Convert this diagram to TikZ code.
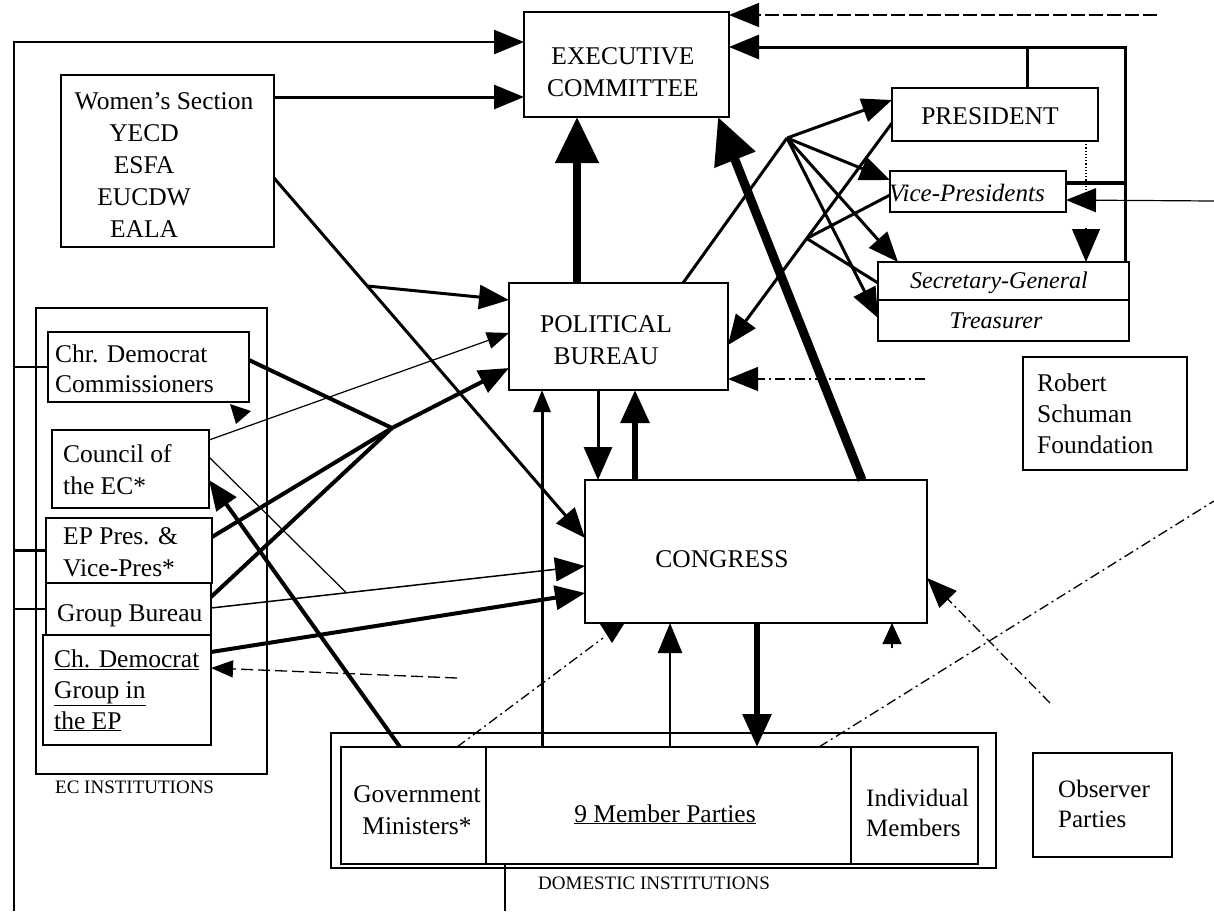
\documentclass[tikz,border=0pt]{standalone}
\usepackage{fontspec}
\setmainfont{Liberation Serif}
\usetikzlibrary{arrows.meta,calc,fit}
\begin{document}
\begin{tikzpicture}[x=1pt,y=-1pt,
  box/.style={draw,line width=2.3pt,inner sep=0pt,outer sep=0pt},
  grp/.style={draw,line width=1.2pt,inner sep=0pt,outer sep=0pt},
  txt/.style={inner sep=0pt,font=\fontsize{25.5}{31}\selectfont},
  smalltxt/.style={inner sep=0pt,font=\fontsize{19}{22}\selectfont},
  ln/.style={line width=2.5pt},
  thinl/.style={line width=1.2pt},
  med/.style={line width=3pt},
  thk/.style={line width=4pt},
  thksix/.style={line width=6pt},
  vthk/.style={line width=8pt},
  dashdot/.style={line width=1.3pt,dash pattern=on 10pt off 4pt on 2pt off 4pt},
  longdash/.style={line width=1.5pt,dash pattern=on 14pt off 4pt},
  arr/.style={-{Triangle[length=30pt,width=24pt]}},
  arrS/.style={-{Triangle[length=22pt,width=17pt]}},
  arrM/.style={-{Triangle[length=33pt,width=28pt]}},
  arrB/.style={-{Triangle[length=46pt,width=42pt]}}]
\useasboundingbox (0,0) rectangle (1214,911);

% ---------------- boxes ----------------
\node[box,fit={(524,12)(729,117)}] (ec) {};
\node[box,fit={(61,75)(274,247)}] (wom) {};
\node[box,fit={(892,88)(1098,141)}] (pres) {};
\node[box,fit={(890,171)(1066,212)}] (vp) {};
\node[box,fit={(878,262)(1129,300)}] (sg) {};
\node[box,fit={(878,300)(1129,341)}] (tr) {};
\node[box,fit={(1023,357)(1187,470)}] (rsf) {};
\node[box,fit={(509,283)(728,390)}] (pb) {};
\node[box,fit={(585,480)(927,623)}] (cong) {};
\node[grp,fit={(36,308)(267,774)}] (ecinst) {};
\node[box,fit={(48,332)(249,402)}] (com) {};
\node[box,fit={(52,430)(209,508)}] (coun) {};
\node[box,fit={(46,518)(212,583)}] (ep) {};
\node[box,fit={(46,583)(211,635)}] (gb) {};
\node[box,fit={(43,635)(211,745)}] (cdg) {};
\node[grp,fit={(331,733)(996,868)}] (dom) {};
\node[box,fit={(341,747)(486,864)}] (gm) {};
\node[box,fit={(486,747)(851,864)}] (mp) {};
\node[box,fit={(851,747)(978,864)}] (im) {};
\node[box,fit={(1033,753)(1172,857)}] (obs) {};

% ---------------- texts (base = last line) ----------------
\node[txt,anchor=base,align=center,font=\fontsize{25.5}{32}\selectfont] (ectx) at (623,96) {EXECUTIVE\\COMMITTEE};
\node[txt,anchor=base,align=center,font=\fontsize{25.5}{32}\selectfont] (womtx) at (164,237)
  {Women's Section\\\hspace*{-40pt}YECD\\\hspace*{-40pt}ESFA\\\hspace*{-40pt}EUCDW\\\hspace*{-40pt}EALA};
\node[txt,anchor=base] (prestx) at (990,124) {PRESIDENT};
\node[txt,anchor=base west,font=\fontsize{25}{31}\itshape] (vptx) at (889,201) {Vice-Presidents};
\node[txt,anchor=base,font=\fontsize{24}{31}\itshape] (sgtx) at (999,288) {Secretary-General};
\node[txt,anchor=base,font=\fontsize{24}{31}\itshape] (trtx) at (996,328) {Treasurer};
\node[txt,anchor=base west,align=left] (rsftx) at (1037,453) {Robert\\Schuman\\Foundation};
\node[txt,anchor=base,align=center,font=\fontsize{25.5}{32}\selectfont] (pbtx) at (606,364) {POLITICAL\\BUREAU};
\node[txt,anchor=base] (congtx) at (722,567) {CONGRESS};
\node[txt,anchor=base west,align=left,font=\fontsize{25.5}{30}\selectfont] (comtx) at (55,392) {Chr. Democrat\\Commissioners};
\node[txt,anchor=base west,align=left,font=\fontsize{25.5}{32}\selectfont] (countx) at (63,494) {Council of\\the EC*};
\node[txt,anchor=base west,align=left,font=\fontsize{25.5}{32}\selectfont] (eptx) at (63,576) {EP Pres. \&\\Vice-Pres*};
\node[txt,anchor=base west] (gbtx) at (57,621) {Group Bureau};
\node[txt,anchor=base west,align=left] (cdgtx) at (54,729) {\underline{Ch. Democrat}\\\underline{Group in}\\\underline{the EP}};
\node[smalltxt,anchor=base west] (ecinsttx) at (55,793) {EC INSTITUTIONS};
\node[txt,anchor=base,align=center,font=\fontsize{25.5}{32}\selectfont] (gmtx) at (417,834) {Government\\Ministers*};
\node[txt,anchor=base] (mptx) at (665,822) {\underline{9 Member Parties}};
\node[txt,anchor=base west,align=left,font=\fontsize{25}{30}\selectfont] (imtx) at (866,836) {Individual\\Members};
\node[txt,anchor=base west,align=left,font=\fontsize{25}{30}\selectfont] (obstx) at (1058,827) {Observer\\Parties};
\node[smalltxt,anchor=base west] (domtx) at (538,889) {DOMESTIC INSTITUTIONS};

% ---------------- left frame ----------------
\coordinate (frB) at (14,911);
\coordinate (frT) at (14,42);
\draw[ln,arr] (frB) -- (frT) -- (ec.west |- frT);
\draw[ln] (frB |- com.west) -- (com.west);
\draw[ln] (frB |- ep.west) -- (ep.west);
\draw[ln] (frB |- gb.west) -- (gb.west);

% ---------------- women's section ----------------
\draw[med,arr] (wom.east |- 0,97) -- (ec.west |- 0,97);
\coordinate (w1) at (wom.east |- 0,178);
\coordinate (w2) at (cong.west |- 0,538);
\draw[med,arr] (w1) -- (w2);
\draw[med,arr] ($(w1)!0.3!(w2)$) -- (pb.west |- 0,300);

% ---------------- to executive committee ----------------
\draw[vthk,arrB] (pb.north -| 577,0) -- (ec.south -| 577,0);
\draw[line width=9pt,arrB] (cong.north -| 862,0) -- (ec.south -| 718,0);
\draw[longdash,arr] (1157,15) -- (ec.east |- 0,15);
\draw[med,arr] (sg.north -| 1125,0) -- (1125,47) -- (ec.east |- 0,47);
\draw[med] (pres.north -| 1027,0) -- (1027,47);
\draw[thk] (vp.east |- 0,183) -- (1125,183);
\draw[thinl,arr] (1214,201) -- (vp.east |- 0,200);
\draw[thinl,dotted] (pres.south -| 1086,0) -- (1086,200);
\draw[thinl,arrM] (1086,228) -- (sg.north -| 1086,0);

% ---------------- fan ----------------
\coordinate (fan) at (787,138);
\draw[med] (pb.north -| 683,0) -- (fan);
\draw[med,arr] (fan) -- (pres.west |- 0,100);
\draw[med,arr] (fan) -- (vp.west |- 0,180);
\draw[med,arr] (fan) -- (sg.north -| 898,0);
\draw[med,arr] (fan) -- (tr.west |- 0,318);
\coordinate (p1) at (pres.west |- 0,123);
\coordinate (p2) at (pb.east |- 0,345);
\draw[med,arr] (p1) -- (p2);
\coordinate (vpj) at ($(p1)!0.52!(p2)$);
\draw[med] (vp.west |- 0,195) -- (vpj);
\draw[med] (vpj) -- (sg.west |- 0,283);
\draw[dashdot,arr] (925,379) -- (pb.east |- 0,379);

% ---------------- EC institutions ----------------
\coordinate (bund) at (392,428);
\draw[thk] (com.east |- 0,360) -- (bund);
\draw[thk] (ep.east |- 0,537) -- (bund);
\draw[thk] (gb.east |- 0,597) -- (bund);
\draw[thk,arr] (bund) -- (pb.west |- 0,368);
\draw[thinl,arrS] (coun.east |- 0,440) -- (pb.west |- 0,333);
\coordinate (g1) at (gb.east |- 0,608);
\coordinate (g2) at (cong.west |- 0,566);
\draw[line width=1.5pt,arr] (g1) -- (g2);
\draw[thinl] (coun.east |- 0,457) -- ($(g1)!0.362!(g2)$);
\draw[thk,arr] (cdg.east |- 0,652) -- (cong.west |- 0,593);
\draw[line width=1.3pt,dash pattern=on 12pt off 5pt,arrS] (457,678) -- (cdg.east |- 0,668);
\draw[thk,arr] (gm.north -| 400,0) -- (coun.east |- 0,480);
\fill (230,404) -- (251,411) -- (236,424) -- cycle;

% ---------------- PB / Congress ----------------
\draw[med,arrM] (pb.south -| 598,0) -- (cong.north -| 598,0);
\draw[thksix,arrM] (cong.north -| 635,0) -- (pb.south -| 635,0);
\draw[med,arrS] (mp.north -| 542,0) -- (pb.south -| 542,0);

% ---------------- Congress / domestic ----------------
\draw[ln,arr] (mp.north -| 670,0) -- (cong.south -| 670,0);
\draw[thksix,arrM] (cong.south -| 757,0) -- (mp.north -| 757,0);
\draw[thinl,-{Triangle[length=21pt,width=19pt]}] (im.north -| 892,0) ++(0,-99) -- (cong.south -| 892,0);
\draw[thinl,-{Triangle[length=20pt,width=25pt]}] (cong.south -| 612,0) -- (612,643);
\draw[dashdot] (gm.north -| 457,0) -- (603,638);
\draw[dashdot] (mp.north -| 819,0) -- (1214,501);
\draw[dashdot,arr] (1050,703) -- (cong.east |- 0,578);
\draw[ln] (mp.south -| 505,0) -- (505,911);
\end{tikzpicture}
\end{document}
